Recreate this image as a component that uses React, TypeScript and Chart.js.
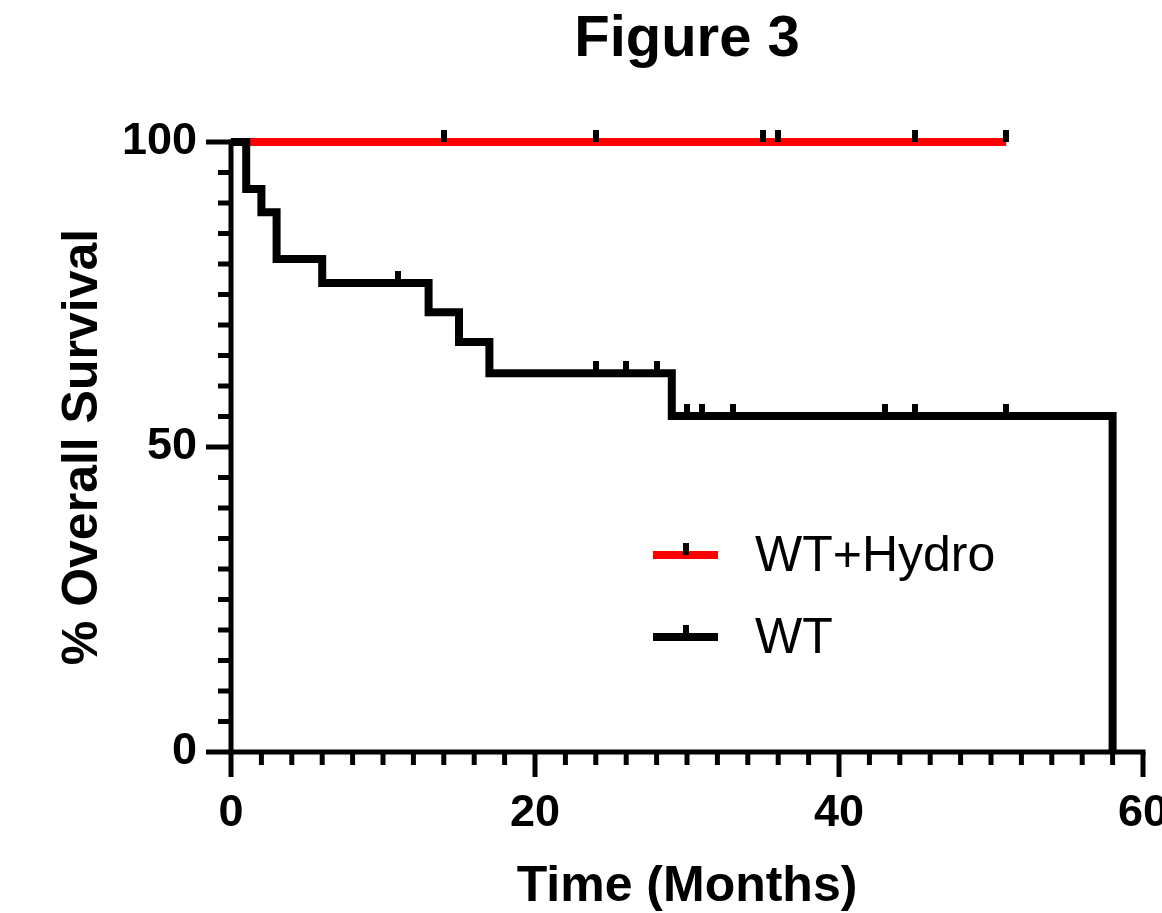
import React, { useEffect, useRef } from "react";
import { Chart, registerables } from "chart.js";

Chart.register(...registerables);

// ---- data ----
const wtTimes = [0, 1, 2, 3, 6, 13, 15, 17, 29, 58];
const wtSurvival = [100, 92.3, 88.5, 80.8, 76.9, 72.1, 67.2, 62.1, 55.1, 0];
const wtCensorTimes = [11, 24, 26, 28, 30, 31, 33, 43, 45, 51];

const hydroTimes = [0, 51];
const hydroSurvival = [100, 100];
const hydroCensorTimes = [14, 24, 35, 36, 45, 51];

const seriesLabels = ["WT+Hydro", "WT"];
const seriesColors = ["#ff0000", "#000000"];
const xTickLabels = [0, 20, 40, 60];
const yTickLabels = [0, 50, 100];

const FONT = '"Liberation Sans", Arial, Helvetica, sans-serif';

function survivalAt(times: number[], surv: number[], t: number) {
  let v = surv[0];
  for (let i = 0; i < times.length; i++) {
    if (times[i] <= t) v = surv[i];
  }
  return v;
}

function makeCensorMark() {
  const c = document.createElement("canvas");
  c.width = 6;
  c.height = 24;
  const g = c.getContext("2d")!;
  g.fillStyle = "#000";
  g.fillRect(0, 0, 6, 12);
  return c;
}

export default function App() {
  const ref = useRef<HTMLCanvasElement>(null);

  useEffect(() => {
    const canvas = ref.current!;
    const mark = makeCensorMark();

    const axesPlugin = {
      id: "prismAxes",
      beforeDatasetsDraw(chart: any) {
        const { ctx, chartArea } = chart;
        const xs = chart.scales.x;
        const ys = chart.scales.y;
        ctx.save();
        ctx.strokeStyle = "#000";
        ctx.lineWidth = 5;
        ctx.lineCap = "butt";
        ctx.beginPath();
        ctx.moveTo(chartArea.left, chartArea.top - 2.5);
        ctx.lineTo(chartArea.left, chartArea.bottom + 2.5);
        ctx.moveTo(chartArea.left - 2.5, chartArea.bottom);
        ctx.lineTo(chartArea.right + 2.5, chartArea.bottom);
        ctx.stroke();
        ctx.beginPath();
        ys.ticks.forEach((t: any) => {
          const p = ys.getPixelForValue(t.value);
          const len = yTickLabels.includes(t.value) ? 25 : 13;
          ctx.moveTo(chartArea.left - len, p);
          ctx.lineTo(chartArea.left, p);
        });
        xs.ticks.forEach((t: any) => {
          const p = xs.getPixelForValue(t.value);
          const len = xTickLabels.includes(t.value) ? 25 : 13;
          ctx.moveTo(p, chartArea.bottom);
          ctx.lineTo(p, chartArea.bottom + len);
        });
        ctx.stroke();
        ctx.restore();
      },
    };

    const legendPlugin = {
      id: "insideLegend",
      afterDraw(chart: any) {
        const { ctx, chartArea } = chart;
        const x0 = chartArea.left + 422;
        const x1 = x0 + 65;
        const rows = [chartArea.top + 413, chartArea.top + 495];
        ctx.save();
        rows.forEach((yy, i) => {
          ctx.strokeStyle = seriesColors[i];
          ctx.lineWidth = 8;
          ctx.lineCap = "butt";
          ctx.beginPath();
          ctx.moveTo(x0, yy);
          ctx.lineTo(x1, yy);
          ctx.stroke();
          ctx.drawImage(mark, (x0 + x1) / 2 - 3, yy - 12);
          ctx.fillStyle = "#000";
          ctx.font = `50px ${FONT}`;
          ctx.textBaseline = "middle";
          ctx.textAlign = "left";
          ctx.fillText(seriesLabels[i], x1 + 37, yy + 2);
        });
        ctx.restore();
      },
    };

    const chart = new Chart(canvas, {
      type: "line",
      data: {
        datasets: [
          {
            label: seriesLabels[0],
            data: hydroTimes.map((t, i) => ({ x: t, y: hydroSurvival[i] })),
            borderColor: seriesColors[0],
            borderWidth: 8,
            stepped: "before",
            pointRadius: 0,
            fill: false,
            clip: false,
            order: 3,
            borderCapStyle: "butt",
            borderJoinStyle: "miter",
          } as any,
          {
            label: seriesLabels[1],
            data: wtTimes.map((t, i) => ({ x: t, y: wtSurvival[i] })),
            borderColor: seriesColors[1],
            borderWidth: 8,
            stepped: "before",
            pointRadius: 0,
            fill: false,
            clip: false,
            order: 2,
            borderCapStyle: "butt",
            borderJoinStyle: "miter",
          } as any,
          {
            label: "hydroCensor",
            data: hydroCensorTimes.map((t) => ({ x: t, y: survivalAt(hydroTimes, hydroSurvival, t) })),
            showLine: false,
            pointStyle: mark,
            pointRadius: 6,
            clip: false,
            order: 1,
          } as any,
          {
            label: "wtCensor",
            data: wtCensorTimes.map((t) => ({ x: t, y: survivalAt(wtTimes, wtSurvival, t) })),
            showLine: false,
            pointStyle: mark,
            pointRadius: 6,
            clip: false,
            order: 0,
          } as any,
        ],
      },
      options: {
        responsive: false,
        animation: false,
        events: [],
        layout: { padding: { left: 0, right: 19, top: 0, bottom: 0 } },
        plugins: {
          legend: { display: false },
          tooltip: { enabled: false },
          title: {
            display: true,
            text: "Figure 3",
            fullSize: false,
            color: "#000",
            font: { family: FONT, size: 58, weight: "bold", lineHeight: 1.2 },
            padding: { top: 5, bottom: 67.4 },
          },
        },
        scales: {
          x: {
            type: "linear",
            min: 0,
            max: 60,
            grid: { display: false, drawTicks: false },
            border: { display: false },
            ticks: {
              stepSize: 2,
              autoSkip: false,
              maxRotation: 0,
              padding: 35,
              color: "#000",
              font: { family: FONT, size: 45, weight: "bold", lineHeight: 1.2 },
              callback: (v: any) => (xTickLabels.includes(Number(v)) ? String(v) : ""),
            },
            title: {
              display: true,
              text: "Time (Months)",
              color: "#000",
              font: { family: FONT, size: 50, weight: "bold", lineHeight: 1 },
              padding: { top: 0, bottom: 1 },
            },
            afterFit: (s: any) => {
              s.height = 161;
              s.paddingLeft = 0;
              s.paddingRight = 0;
            },
          },
          y: {
            type: "linear",
            min: 0,
            max: 100,
            grid: { display: false, drawTicks: false },
            border: { display: false },
            ticks: {
              stepSize: 5,
              autoSkip: false,
              padding: 34,
              color: "#000",
              font: { family: FONT, size: 45, weight: "bold", lineHeight: 1.2 },
              callback: (v: any) => (yTickLabels.includes(Number(v)) ? String(v) : ""),
            },
            title: {
              display: true,
              text: "% Overall Survival",
              color: "#000",
              font: { family: FONT, size: 50, weight: "bold", lineHeight: 1 },
              padding: { top: 58, bottom: 0 },
            },
            afterFit: (s: any) => {
              s.width = 231;
              s.paddingTop = 0;
              s.paddingBottom = 0;
            },
          },
        },
      },
      plugins: [axesPlugin, legendPlugin],
    } as any);

    return () => chart.destroy();
  }, []);

  return (
    <div style={{ position: "absolute", left: 0, top: 0, width: 1162, height: 913, background: "#fff" }}>
      <canvas ref={ref} width={1162} height={913} style={{ display: "block", width: 1162, height: 913 }} />
    </div>
  );
}
